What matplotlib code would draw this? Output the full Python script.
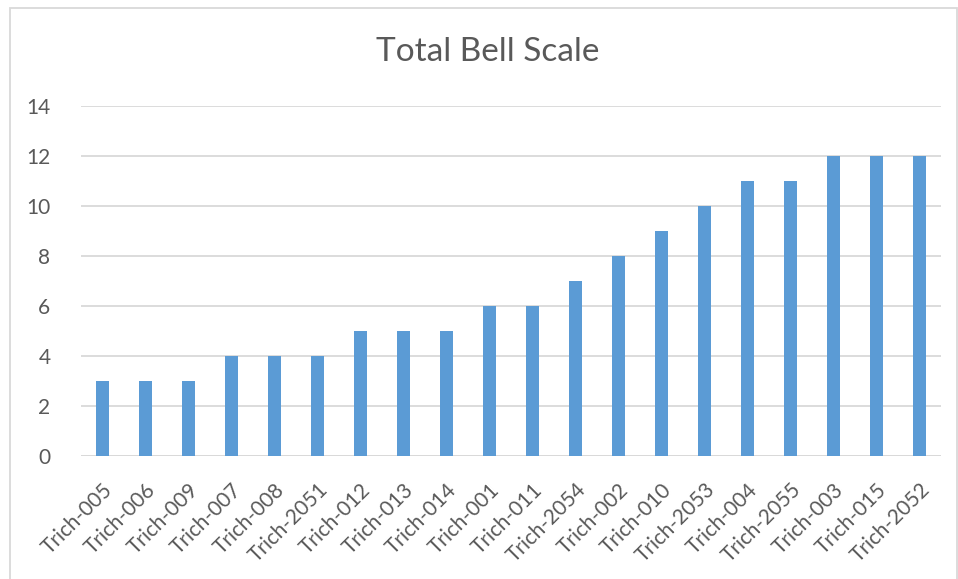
import matplotlib.pyplot as plt
from matplotlib.patches import Rectangle

categories = ["Trich-005", "Trich-006", "Trich-009", "Trich-007", "Trich-008",
              "Trich-2051", "Trich-012", "Trich-013", "Trich-014", "Trich-001",
              "Trich-011", "Trich-2054", "Trich-002", "Trich-010", "Trich-2053",
              "Trich-004", "Trich-2055", "Trich-003", "Trich-015", "Trich-2052"]
values = [3, 3, 3, 4, 4, 4, 5, 5, 5, 6, 6, 7, 8, 9, 10, 11, 11, 12, 12, 12]
yticks = [0, 2, 4, 6, 8, 10, 12, 14]

plt.rcParams['font.family'] = ['Lato', 'DejaVu Sans']
txt = '#595959'
grid = '#D9D9D9'

fig = plt.figure(figsize=(9.58, 5.79), dpi=100)
ax = fig.add_axes([81 / 958, 1 - 456 / 579, 860 / 958, 350 / 579])

x = list(range(len(categories)))
ax.bar(x, values, width=0.32, color='#5B9BD5', zorder=3)

ax.set_xlim(-0.5, len(categories) - 0.5)
ax.set_ylim(0, 14)
ax.set_yticks(yticks)
ax.yaxis.grid(True, color=grid, linewidth=1.3, zorder=0)
for s in ax.spines.values():
    s.set_visible(False)
ax.axhline(0, color=grid, linewidth=1.3, zorder=2)
ax.tick_params(axis='both', length=0, colors=txt, labelsize=15)
ax.tick_params(axis='y', pad=22)
ax.set_xticks(x)
ax.set_xticklabels(categories, rotation=45, ha='right', va='top',
                   rotation_mode='anchor')
ax.tick_params(axis='x', pad=17)

fig.text(488 / 958, 1 - 52 / 579, "Total Bell Scale", ha='center', va='center',
         fontsize=24, color=txt)

# chart border
fig.patches.append(Rectangle((9.5 / 958, -0.05), 947 / 958, 1.05 - 7.5 / 579,
                             transform=fig.transFigure, fill=False,
                             edgecolor=grid, linewidth=1.3))

fig.savefig("out.png", dpi=100)
